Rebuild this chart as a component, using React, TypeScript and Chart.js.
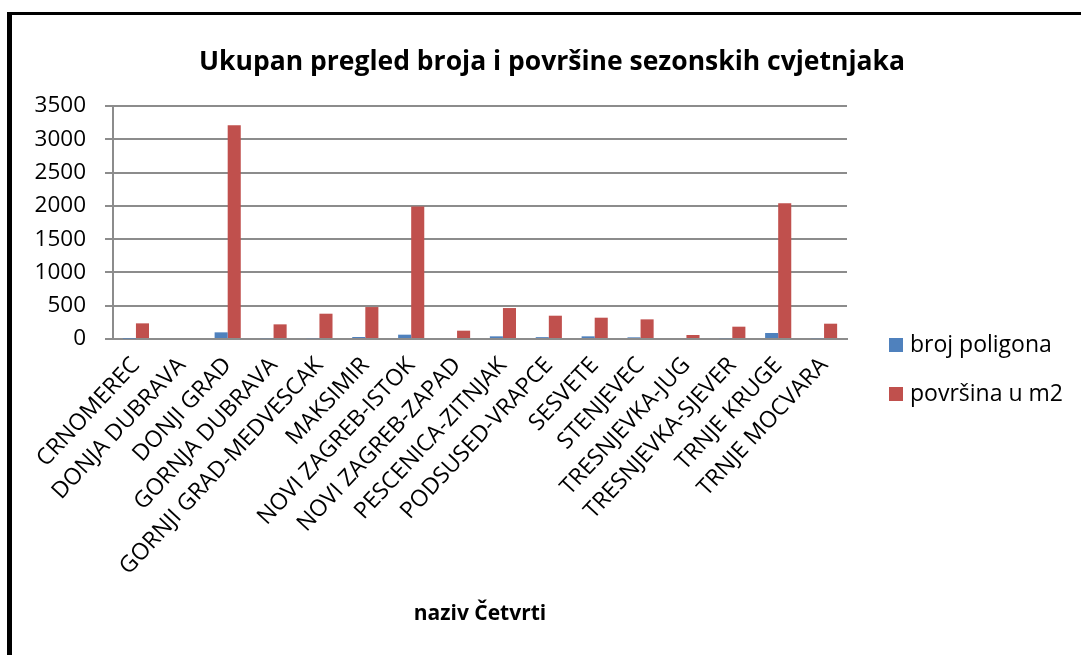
import { useEffect, useRef } from 'react';
import { Chart, registerables } from 'chart.js';

Chart.register(...registerables);

const categories = [
  'CRNOMEREC',
  'DONJA DUBRAVA',
  'DONJI GRAD',
  'GORNJA DUBRAVA',
  'GORNJI GRAD-MEDVESCAK',
  'MAKSIMIR',
  'NOVI ZAGREB-ISTOK',
  'NOVI ZAGREB-ZAPAD',
  'PESCENICA-ZITNJAK',
  'PODSUSED-VRAPCE',
  'SESVETE',
  'STENJEVEC',
  'TRESNJEVKA-JUG',
  'TRESNJEVKA-SJEVER',
  'TRNJE KRUGE',
  'TRNJE MOCVARA',
];

const brojPoligona = [6, 0, 100, 12, 12, 30, 65, 0, 40, 28, 40, 25, 0, 12, 90, 12];
const povrsina = [235, 0, 3210, 220, 380, 480, 1990, 125, 465, 350, 320, 295, 60, 185, 2040, 230];

const yMin = 0;
const yMax = 3500;
const yStep = 500;

const titleText = 'Ukupan pregled broja i površine sezonskih cvjetnjaka';
const xAxisTitle = 'naziv Četvrti';
const seriesLabels = ['broj poligona', 'površina u m2'];
const seriesColors = ['#4F81BD', '#C0504D'];

const FONT = "'Open Sans', 'DejaVu Sans', sans-serif";
const GRID = '#8c8c8c';

export default function App() {
  const ref = useRef<HTMLCanvasElement>(null);

  useEffect(() => {
    document.body.style.margin = '0';
    const canvas = ref.current;
    if (!canvas) return;

    const decor = {
      id: 'decor',
      afterDraw(chart: any) {
        const ctx = chart.ctx;
        ctx.save();
        // title
        ctx.fillStyle = '#000';
        ctx.font = `bold 26.5px ${FONT}`;
        ctx.textAlign = 'center';
        ctx.textBaseline = 'alphabetic';
        ctx.fillText(titleText, 552, 70);
        // legend
        ctx.font = `23px ${FONT}`;
        ctx.textAlign = 'left';
        ctx.textBaseline = 'middle';
        const legendY = [345, 394];
        chart.data.datasets.forEach((ds: any, i: number) => {
          ctx.fillStyle = ds.backgroundColor;
          ctx.fillRect(889, legendY[i] - 7, 14, 14);
          ctx.fillStyle = '#000';
          ctx.fillText(ds.label, 910, legendY[i]);
        });
        ctx.restore();
      },
    };

    const chart = new Chart(canvas, {
      type: 'bar',
      data: {
        labels: categories,
        datasets: [
          { label: seriesLabels[0], data: brojPoligona, backgroundColor: seriesColors[0] },
          { label: seriesLabels[1], data: povrsina, backgroundColor: seriesColors[1] },
        ],
      },
      options: {
        responsive: false,
        animation: false,
        devicePixelRatio: 1,
        layout: { padding: { left: 23, right: 234, top: 106, bottom: 24 } },
        datasets: { bar: { categoryPercentage: 0.57, barPercentage: 1 } },
        plugins: {
          legend: { display: false },
          title: { display: false },
          tooltip: { enabled: false },
        },
        scales: {
          x: {
            grid: { display: false, drawTicks: false },
            border: { display: true, color: GRID, width: 2 },
            ticks: {
              color: '#000',
              font: { family: FONT, size: 23 },
              minRotation: 47,
              maxRotation: 47,
              autoSkip: false,
              padding: 13,
            },
            title: {
              display: true,
              text: xAxisTitle,
              color: '#000',
              font: { family: FONT, size: 21, weight: 'bold' },
              padding: { top: 4, bottom: 4 },
            },
            afterFit(scale: any) {
              scale.height = 292;
            },
          },
          y: {
            min: yMin,
            max: yMax,
            ticks: {
              stepSize: yStep,
              color: '#000',
              font: { family: FONT, size: 22.5 },
              padding: 19,
              callback: (v: any) => String(v),
            },
            grid: { color: GRID, lineWidth: 2, tickLength: 8, tickColor: GRID },
            border: { display: true, color: GRID, width: 2 },
            afterFit(scale: any) {
              scale.width = 90;
            },
          },
        },
      },
      plugins: [decor],
    });

    return () => chart.destroy();
  }, []);

  return (
    <div
      style={{
        position: 'fixed',
        left: 0,
        top: 0,
        width: 1081,
        height: 655,
        overflow: 'hidden',
        background: '#fff',
      }}
    >
      <div
        style={{
          position: 'absolute',
          left: 7,
          top: 12,
          width: 1200,
          height: 800,
          borderLeft: '5px solid #000',
          borderTop: '3px solid #000',
          boxSizing: 'border-box',
        }}
      />
      <canvas
        ref={ref}
        width={1081}
        height={655}
        style={{ position: 'absolute', left: 0, top: 0, width: 1081, height: 655 }}
      />
    </div>
  );
}
